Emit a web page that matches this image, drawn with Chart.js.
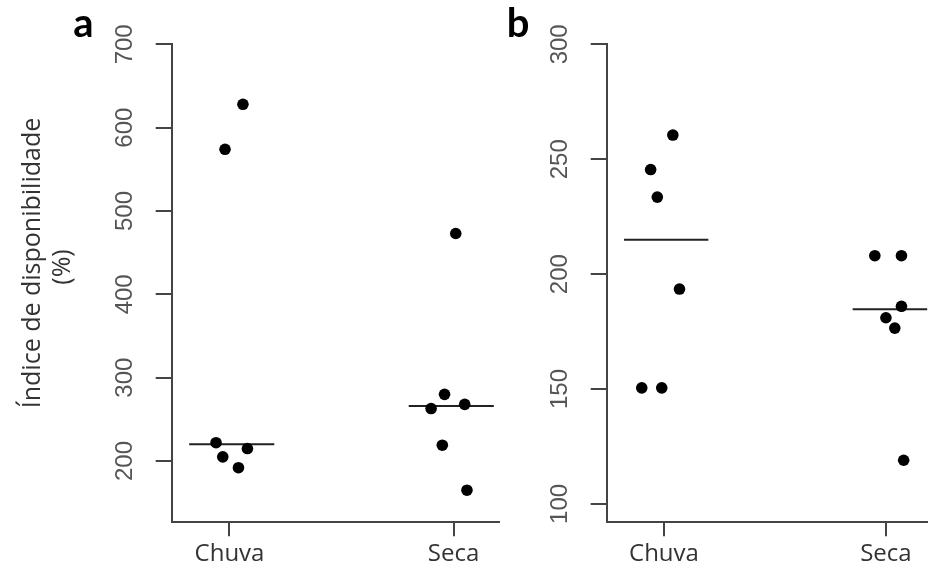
<!DOCTYPE html>
<html>
<head>
<meta charset="utf-8">
<script src="https://cdn.jsdelivr.net/npm/chart.js@4"></script>
<style>
  html, body { margin: 0; padding: 0; background: #fff; }
  body { width: 933px; height: 565px; position: relative; overflow: hidden; }
  #boxA { position: absolute; left: 0; top: 0; width: 505px; height: 565px; }
  #boxB { position: absolute; left: 505px; top: 0; width: 428px; height: 565px; }
</style>
</head>
<body>
<div id="boxA"><canvas id="chartA" width="505" height="565"></canvas></div>
<div id="boxB"><canvas id="chartB" width="428" height="565"></canvas></div>
<script>
// Data
const categories = ['Chuva', 'Seca'];
const yTitle = ['Índice de disponibilidade', '(%)'];

// panel a
const aTicks = [200, 300, 400, 500, 600, 700];
const aChuvaX = [1.06, 0.98, 0.94, 0.97, 1.04, 1.08];
const aChuvaY = [628, 574, 222, 205, 192, 215];
const aSecaX = [2.01, 1.96, 1.90, 2.05, 1.95, 2.06];
const aSecaY = [473, 280, 263, 268, 219, 165];
const aMedians = [220, 266];
const aLineFrom = [0.82, 1.80];
const aLineTo = [1.20, 2.18];

// panel b
const bTicks = [100, 150, 200, 250, 300];
const bChuvaX = [1.04, 0.94, 0.97, 1.07, 0.90, 0.99];
const bChuvaY = [260.5, 245.5, 233.5, 193.5, 150.5, 150.5];
const bSecaX = [1.95, 2.07, 2.07, 2.00, 2.04, 2.08];
const bSecaY = [208, 208, 186, 181, 176.5, 119];
const bMedians = [215, 184.7];
const bLineFrom = [0.82, 1.85];
const bLineTo = [1.20, 2.30];

const axisColor = '#444';

function toPoints(xs, ys) {
  return xs.map((x, i) => ({ x: x, y: ys[i] }));
}

function medianLine(i, medians, from, to) {
  return {
    type: 'line',
    data: [{ x: from[i], y: medians[i] }, { x: to[i], y: medians[i] }],
    borderColor: '#222',
    borderWidth: 2,
    pointRadius: 0,
    showLine: true
  };
}

function dots(xs, ys) {
  return {
    data: toPoints(xs, ys),
    backgroundColor: '#000',
    borderWidth: 0,
    pointRadius: 5.8
  };
}

// letters and y title drawn as text on the canvas
const labelsPlugin = {
  id: 'panelText',
  afterDraw(chart, args, opts) {
    const ctx = chart.ctx;
    ctx.save();
    ctx.fillStyle = '#000';
    ctx.font = 'bold 40px Lato';
    ctx.textAlign = 'center';
    ctx.textBaseline = 'alphabetic';
    ctx.fillText(opts.letter, opts.letterX, 37);
    if (opts.title) {
      ctx.fillStyle = '#333';
      ctx.font = '25px "Open Sans"';
      ctx.textBaseline = 'middle';
      ctx.translate(0, 263);
      ctx.rotate(-Math.PI / 2);
      ctx.fillText(yTitle[0], 0, 33);
      ctx.fillText(yTitle[1], -4, 63);
    }
    ctx.restore();
  }
};

function makePanel(id, cfg) {
  return new Chart(document.getElementById(id), {
    type: 'scatter',
    data: { datasets: cfg.datasets },
    plugins: [labelsPlugin],
    options: {
      responsive: false,
      animation: false,
      events: [],
      layout: { padding: { top: 44.3, right: cfg.padRight, left: 0, bottom: 0 } },
      plugins: {
        legend: { display: false },
        tooltip: { enabled: false },
        panelText: { letter: cfg.letter, letterX: cfg.letterX, title: cfg.title }
      },
      scales: {
        x: {
          type: 'linear',
          min: 0.742,
          max: cfg.xMax,
          afterBuildTicks: (scale) => { scale.ticks = [{ value: 1 }, { value: 2 }]; },
          afterFit: (scale) => { scale.height = 42.7; },
          ticks: {
            callback: (v) => categories[v - 1],
            color: '#333',
            font: { family: 'Open Sans', size: 24 },
            padding: 3,
            autoSkip: false,
            maxRotation: 0
          },
          grid: { drawOnChartArea: false, drawTicks: true, tickLength: 14, color: axisColor, lineWidth: 2 },
          border: { display: true, color: axisColor, width: 2 }
        },
        y: {
          min: cfg.yMin,
          max: cfg.yMax,
          afterBuildTicks: (scale) => { scale.ticks = cfg.ticks.map(v => ({ value: v })); },
          afterFit: (scale) => { scale.width = cfg.axisX; },
          ticks: {
            color: '#555',
            font: { family: 'Liberation Sans', size: 24 },
            minRotation: 90,
            maxRotation: 90,
            crossAlign: 'center',
            padding: 10
          },
          grid: { drawOnChartArea: false, drawTicks: true, tickLength: 16, color: axisColor, lineWidth: 2 },
          border: { display: true, color: axisColor, width: 2 }
        }
      }
    }
  });
}

// Panel a
makePanel('chartA', {
  letter: 'a', letterX: 83.5, title: true,
  axisX: 171.7, padRight: 3, xMax: 2.204,
  yMin: 126.5, yMax: 700, ticks: aTicks,
  datasets: [
    dots(aChuvaX, aChuvaY),
    dots(aSecaX, aSecaY),
    medianLine(0, aMedians, aLineFrom, aLineTo),
    medianLine(1, aMedians, aLineFrom, aLineTo)
  ]
});

// Panel b
makePanel('chartB', {
  letter: 'b', letterX: 13, title: false,
  axisX: 101.7, padRight: 0, xMax: 2.186,
  yMin: 92, yMax: 300, ticks: bTicks,
  datasets: [
    dots(bChuvaX, bChuvaY),
    dots(bSecaX, bSecaY),
    medianLine(0, bMedians, bLineFrom, bLineTo),
    medianLine(1, bMedians, bLineFrom, bLineTo)
  ]
});
</script>
</body>
</html>
